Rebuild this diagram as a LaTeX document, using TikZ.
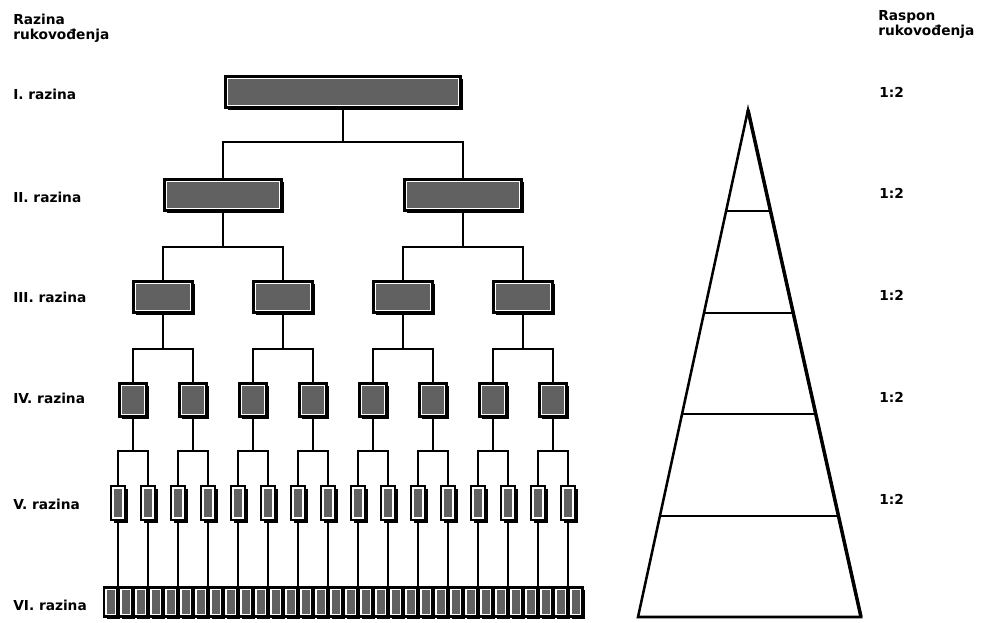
\documentclass[tikz,border=0pt]{standalone}
\usepackage{fontspec}
\setmainfont{DejaVu Sans}
\usetikzlibrary{calc,shadows}

\begin{document}
\begin{tikzpicture}[
  x=0.75pt, y=-0.75pt,
  box/.style={draw, line width=2pt, fill=white, inner sep=0pt,
    drop shadow={shadow xshift=2pt, shadow yshift=-2pt, fill=black, opacity=1},
    path picture={\fill[black!62]
      ([shift={(2pt,-2pt)}]path picture bounding box.north west) rectangle
      ([shift={(-2pt,2pt)}]path picture bounding box.south east);}},
  lbl/.style={anchor=west, inner sep=0pt, font=\bfseries\fontsize{10.3}{11.25}\selectfont},
  link/.style={line width=1.8pt},
]
  \useasboundingbox (0,0) rectangle (981,623);

  % headings
  \node[lbl, anchor=north west, align=left] (hl) at (13,13.5) {Razina\\rukovođenja};
  \node[lbl, anchor=north west, align=left] (hr) at (878,10) {Raspon\\rukovođenja};

  \foreach \k/\r/\y in {1/I/94, 2/II/197, 3/III/297, 4/IV/398, 5/V/504, 6/VI/605}
    \node[lbl] (l\k) at (13,\y) {\r. razina};
  \foreach \k/\y in {1/92, 2/193, 3/295, 4/397, 5/499}
    \node[lbl] (s\k) at (879,\y) {1:2};

  % levels
  \node[box, minimum width=176.5pt, minimum height=23.5pt] (r1) at (343,92) {};
  \node[box, minimum width=87.5pt, minimum height=23.5pt] (r2-1) at (223,195) {};
  \node[box, minimum width=87.5pt, minimum height=23.5pt] (r2-2) at (463,195) {};
  \foreach \i [evaluate=\i as \x using 43+120*\i] in {1,...,4}
    \node[box, minimum width=44.5pt, minimum height=23.5pt] (r3-\i) at (\x,297) {};
  \foreach \i [evaluate=\i as \x using 73+60*\i] in {1,...,8}
    \node[box, minimum width=20pt, minimum height=24.5pt] (r4-\i) at (\x,400) {};
  \foreach \i [evaluate=\i as \x using 88+30*\i] in {1,...,16}
    \node[box, minimum width=10.5pt, minimum height=25.5pt] (r5-\i) at (\x,503) {};
  \foreach \i [evaluate=\i as \x using 95.5+15*\i] in {1,...,32}
    \node[box, minimum width=10pt, minimum height=22pt] (r6-\i) at (\x,602) {};

  % connectors
  \draw[link] (r1.south) -- ++(0,33) -| (r2-1.north);
  \draw[link] (r1.south) -- ++(0,33) -| (r2-2.north);
  \foreach \i [evaluate=\i as \a using int(2*\i-1), evaluate=\i as \b using int(2*\i)] in {1,2} {
    \draw[link] (r2-\i.south) -- ++(0,35) -| (r3-\a.north);
    \draw[link] (r2-\i.south) -- ++(0,35) -| (r3-\b.north);
  }
  \foreach \i [evaluate=\i as \a using int(2*\i-1), evaluate=\i as \b using int(2*\i)] in {1,...,4} {
    \draw[link] (r3-\i.south) -- ++(0,35) -| (r4-\a.north);
    \draw[link] (r3-\i.south) -- ++(0,35) -| (r4-\b.north);
  }
  \foreach \i [evaluate=\i as \a using int(2*\i-1), evaluate=\i as \b using int(2*\i)] in {1,...,8} {
    \draw[link] (r4-\i.south) -- ++(0,33.5) -| (r5-\a.north);
    \draw[link] (r4-\i.south) -- ++(0,33.5) -| (r5-\b.north);
  }
  \foreach \i in {1,...,16}
    \draw[link] (r5-\i.south) -- (r5-\i.south |- r6-1.north);

  % pyramid
  \coordinate (ap) at (748,110);
  \coordinate (bl) at (638,617);
  \coordinate (br) at (861,617);
  \draw[line width=1.9pt] (ap) -- (bl) -- (br) -- cycle;
  \draw[line width=2.6pt] (ap) -- (br);
  \foreach \t in {0.2,0.4,0.6,0.8}
    \draw[line width=1.6pt] ($(ap)!\t!(bl)$) -- ($(ap)!\t!(br)$);
\end{tikzpicture}
\end{document}
